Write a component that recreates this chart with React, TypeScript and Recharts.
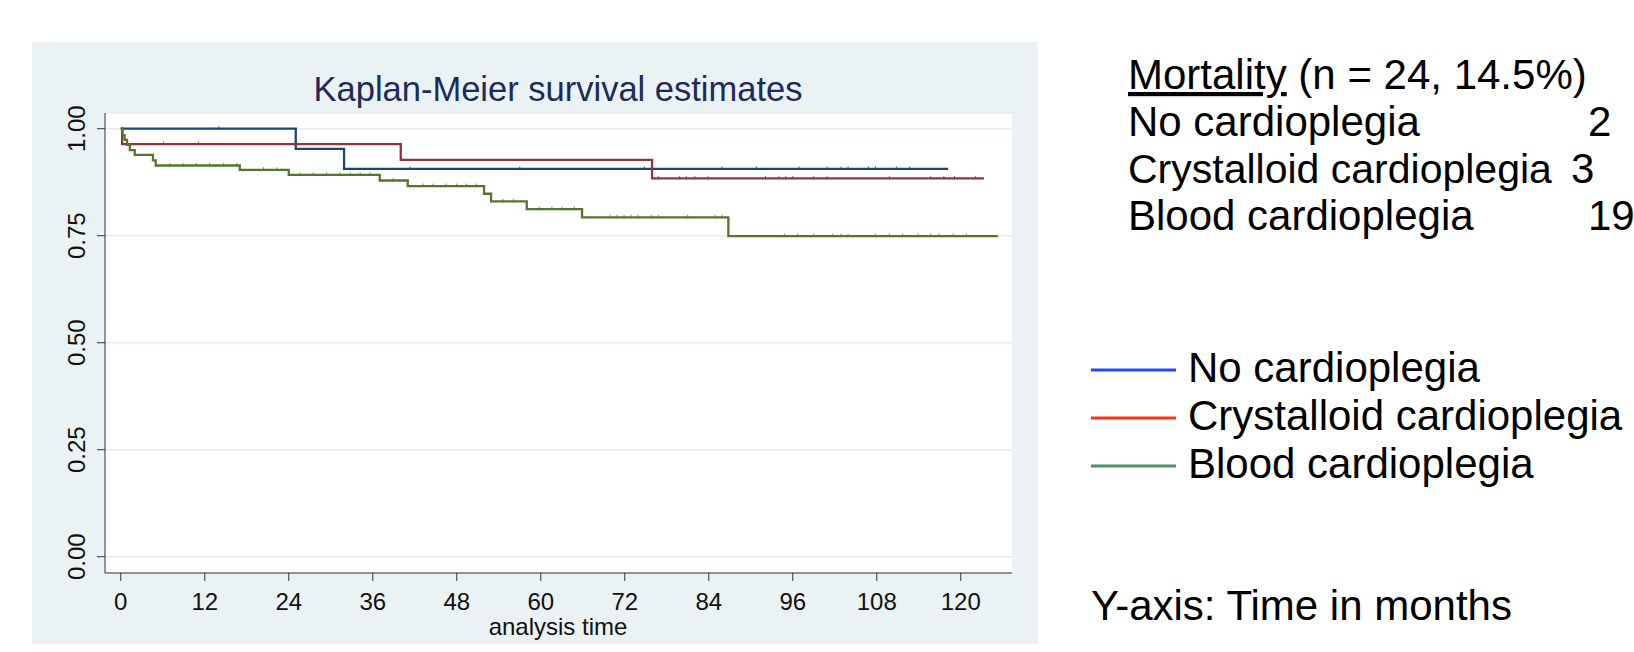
import { ComposedChart, Line, Scatter, XAxis, YAxis, CartesianGrid } from "recharts"

// axis ticks
const timeTicks = [0, 12, 24, 36, 48, 60, 72, 84, 96, 108, 120]
const survTicks = [0, 0.25, 0.5, 0.75, 1]

// Kaplan-Meier steps (months, survival)
const noCardTime = [0, 25.0, 31.9, 118.2]
const noCardSurv = [1, 0.953, 0.906, 0.906]
const noCardCensor = [14.0, 41.3, 57.0, 74.8, 85.9, 90.8, 96.9, 100.9, 102.9, 103.9, 106.8, 107.8, 110.8, 112.7]

const crystTime = [0, 0.2, 40.0, 75.9, 123.3]
const crystSurv = [1, 0.964, 0.927, 0.884, 0.884]
const crystCensor = [6.1, 11.1, 76.8, 79.8, 80.8, 82.0, 83.9, 92.1, 94.0, 95.0, 96.0, 99.0, 100.9, 109.8, 115.7, 117.6, 119.1, 122.1]

const bloodTime = [0, 0.25, 0.55, 0.9, 1.3, 2.0, 4.6, 5.0, 17.0, 24.0, 37.0, 41.0, 51.9, 52.9, 58.0, 65.9, 86.8, 125.3]
const bloodSurv = [1, 0.985, 0.974, 0.962, 0.95, 0.939, 0.926, 0.914, 0.904, 0.892, 0.879, 0.866, 0.848, 0.83, 0.812, 0.793, 0.749, 0.749]
const bloodCensor = [
  7.0, 8.9, 10.8, 12.7, 14.7, 16.6, 20.4, 22.3, 25.6, 27.5, 29.4, 31.3, 32.8, 34.2, 35.6, 38.9,
  43.2, 44.6, 46.5, 48.0, 49.4, 50.8, 54.6, 56.1, 59.8, 61.6, 63.0, 64.8, 69.9, 70.9, 71.9, 72.9,
  73.9, 75.8, 76.8, 81.0, 84.9, 85.9, 94.8, 96.7, 99.0, 101.7, 102.9, 103.9, 107.8, 109.8, 111.7,
  113.9, 115.7, 116.9, 118.9, 120.8,
]

const groups = ["No cardioplegia", "Crystalloid cardioplegia", "Blood cardioplegia"]
const deaths = ["2", "3", "19"]

const lineColors = ["#1a476f", "#90353b", "#55752f"]
const legendColors = ["#1f4bff", "#ff3516", "#4c9463"]

const font = "'Liberation Sans', Arial, sans-serif"

function steps(times: number[], surv: number[]) {
  return times.map((t, i) => ({ t, s: surv[i] }))
}

function censored(times: number[], surv: number[], cens: number[]) {
  return cens.map((c) => {
    let s = surv[0]
    times.forEach((t, i) => {
      if (t <= c) s = surv[i]
    })
    return { t: c, s }
  })
}

// small censoring ticks, as stata draws them
const CensorMark = (color: string) => (props: any) => (
  <line x1={props.cx} x2={props.cx} y1={props.cy - 2.5} y2={props.cy + 1} stroke={color} strokeWidth={1} opacity={0.8} />
)

const YTick = (props: any) => {
  const { x, y, payload } = props
  const bx = x - 10
  return (
    <text x={bx} y={y} transform={`rotate(-90 ${bx} ${y})`} textAnchor="middle" fontSize={24} fill="#111" fontFamily={font}>
      {payload.value.toFixed(2)}
    </text>
  )
}

export default function App() {
  const series = [
    { data: steps(noCardTime, noCardSurv), cens: censored(noCardTime, noCardSurv, noCardCensor) },
    { data: steps(crystTime, crystSurv), cens: censored(crystTime, crystSurv, crystCensor) },
    { data: steps(bloodTime, bloodSurv), cens: censored(bloodTime, bloodSurv, bloodCensor) },
  ]

  return (
    <div style={{ position: "fixed", left: 0, top: 0, width: 1634, height: 652, background: "#fff", overflow: "hidden" }}>
      <div style={{ position: "absolute", left: 32, top: 42, width: 1006, height: 602, background: "#eaf2f3" }}>
        <ComposedChart width={1006} height={602} margin={{ top: 71, right: 26, bottom: 0, left: 0 }}>
          <CartesianGrid horizontal vertical={false} fill="#fff" stroke="#e3ecef" strokeWidth={1.5} />
          <XAxis
            type="number"
            dataKey="t"
            domain={[-2.25, 127.32]}
            ticks={timeTicks}
            allowDataOverflow
            height={71}
            tickSize={8}
            tickMargin={12}
            stroke="#333"
            tick={{ fontSize: 24, fill: "#111", fontFamily: font }}
          />
          <YAxis
            type="number"
            dataKey="s"
            domain={[-0.038, 1.0367]}
            ticks={survTicks}
            allowDataOverflow
            width={73}
            tickSize={8}
            stroke="#333"
            tick={<YTick />}
          />
          {series.map((sr, i) => (
            <Line
              key={groups[i]}
              data={sr.data}
              dataKey="s"
              type="stepAfter"
              stroke={lineColors[i]}
              strokeWidth={2.3}
              dot={false}
              isAnimationActive={false}
            />
          ))}
          {series.map((sr, i) => (
            <Scatter
              key={groups[i] + "-c"}
              data={sr.cens}
              dataKey="s"
              shape={CensorMark(lineColors[i])}
              isAnimationActive={false}
            />
          ))}
        </ComposedChart>
      </div>
      <svg width={1634} height={652} style={{ position: "absolute", left: 0, top: 0, pointerEvents: "none" }} fontFamily={font}>
        <text x={558} y={101} textAnchor="middle" fontSize={34.5} fill="#1c2b5a">
          Kaplan-Meier survival estimates
        </text>
        <text x={558} y={635} textAnchor="middle" fontSize={24} fill="#111">
          analysis time
        </text>

        <text x={1128} y={89} fontSize={42} fill="#000">
          <tspan textDecoration="underline">Mortality</tspan> (n = 24, 14.5%)
        </text>
        {groups.map((g, i) => (
          <text key={g} x={1128} y={136 + i * 47} fontSize={i === 1 ? 41 : 42} fill="#000">
            {g}
          </text>
        ))}
        {deaths.map((d, i) => (
          <text key={d} x={i === 1 ? 1571 : 1588} y={136 + i * 47} fontSize={42} fill="#000">
            {d}
          </text>
        ))}

        {groups.map((g, i) => (
          <g key={g + "-leg"}>
            <line x1={1091} x2={1176} y1={370 + i * 48} y2={370 + i * 48} stroke={legendColors[i]} strokeWidth={3} />
            <text x={1188} y={382 + i * 48} fontSize={42} fill="#000">
              {g}
            </text>
          </g>
        ))}

        <text x={1091} y={620} fontSize={42} fill="#000">
          Y-axis: Time in months
        </text>
      </svg>
    </div>
  )
}
